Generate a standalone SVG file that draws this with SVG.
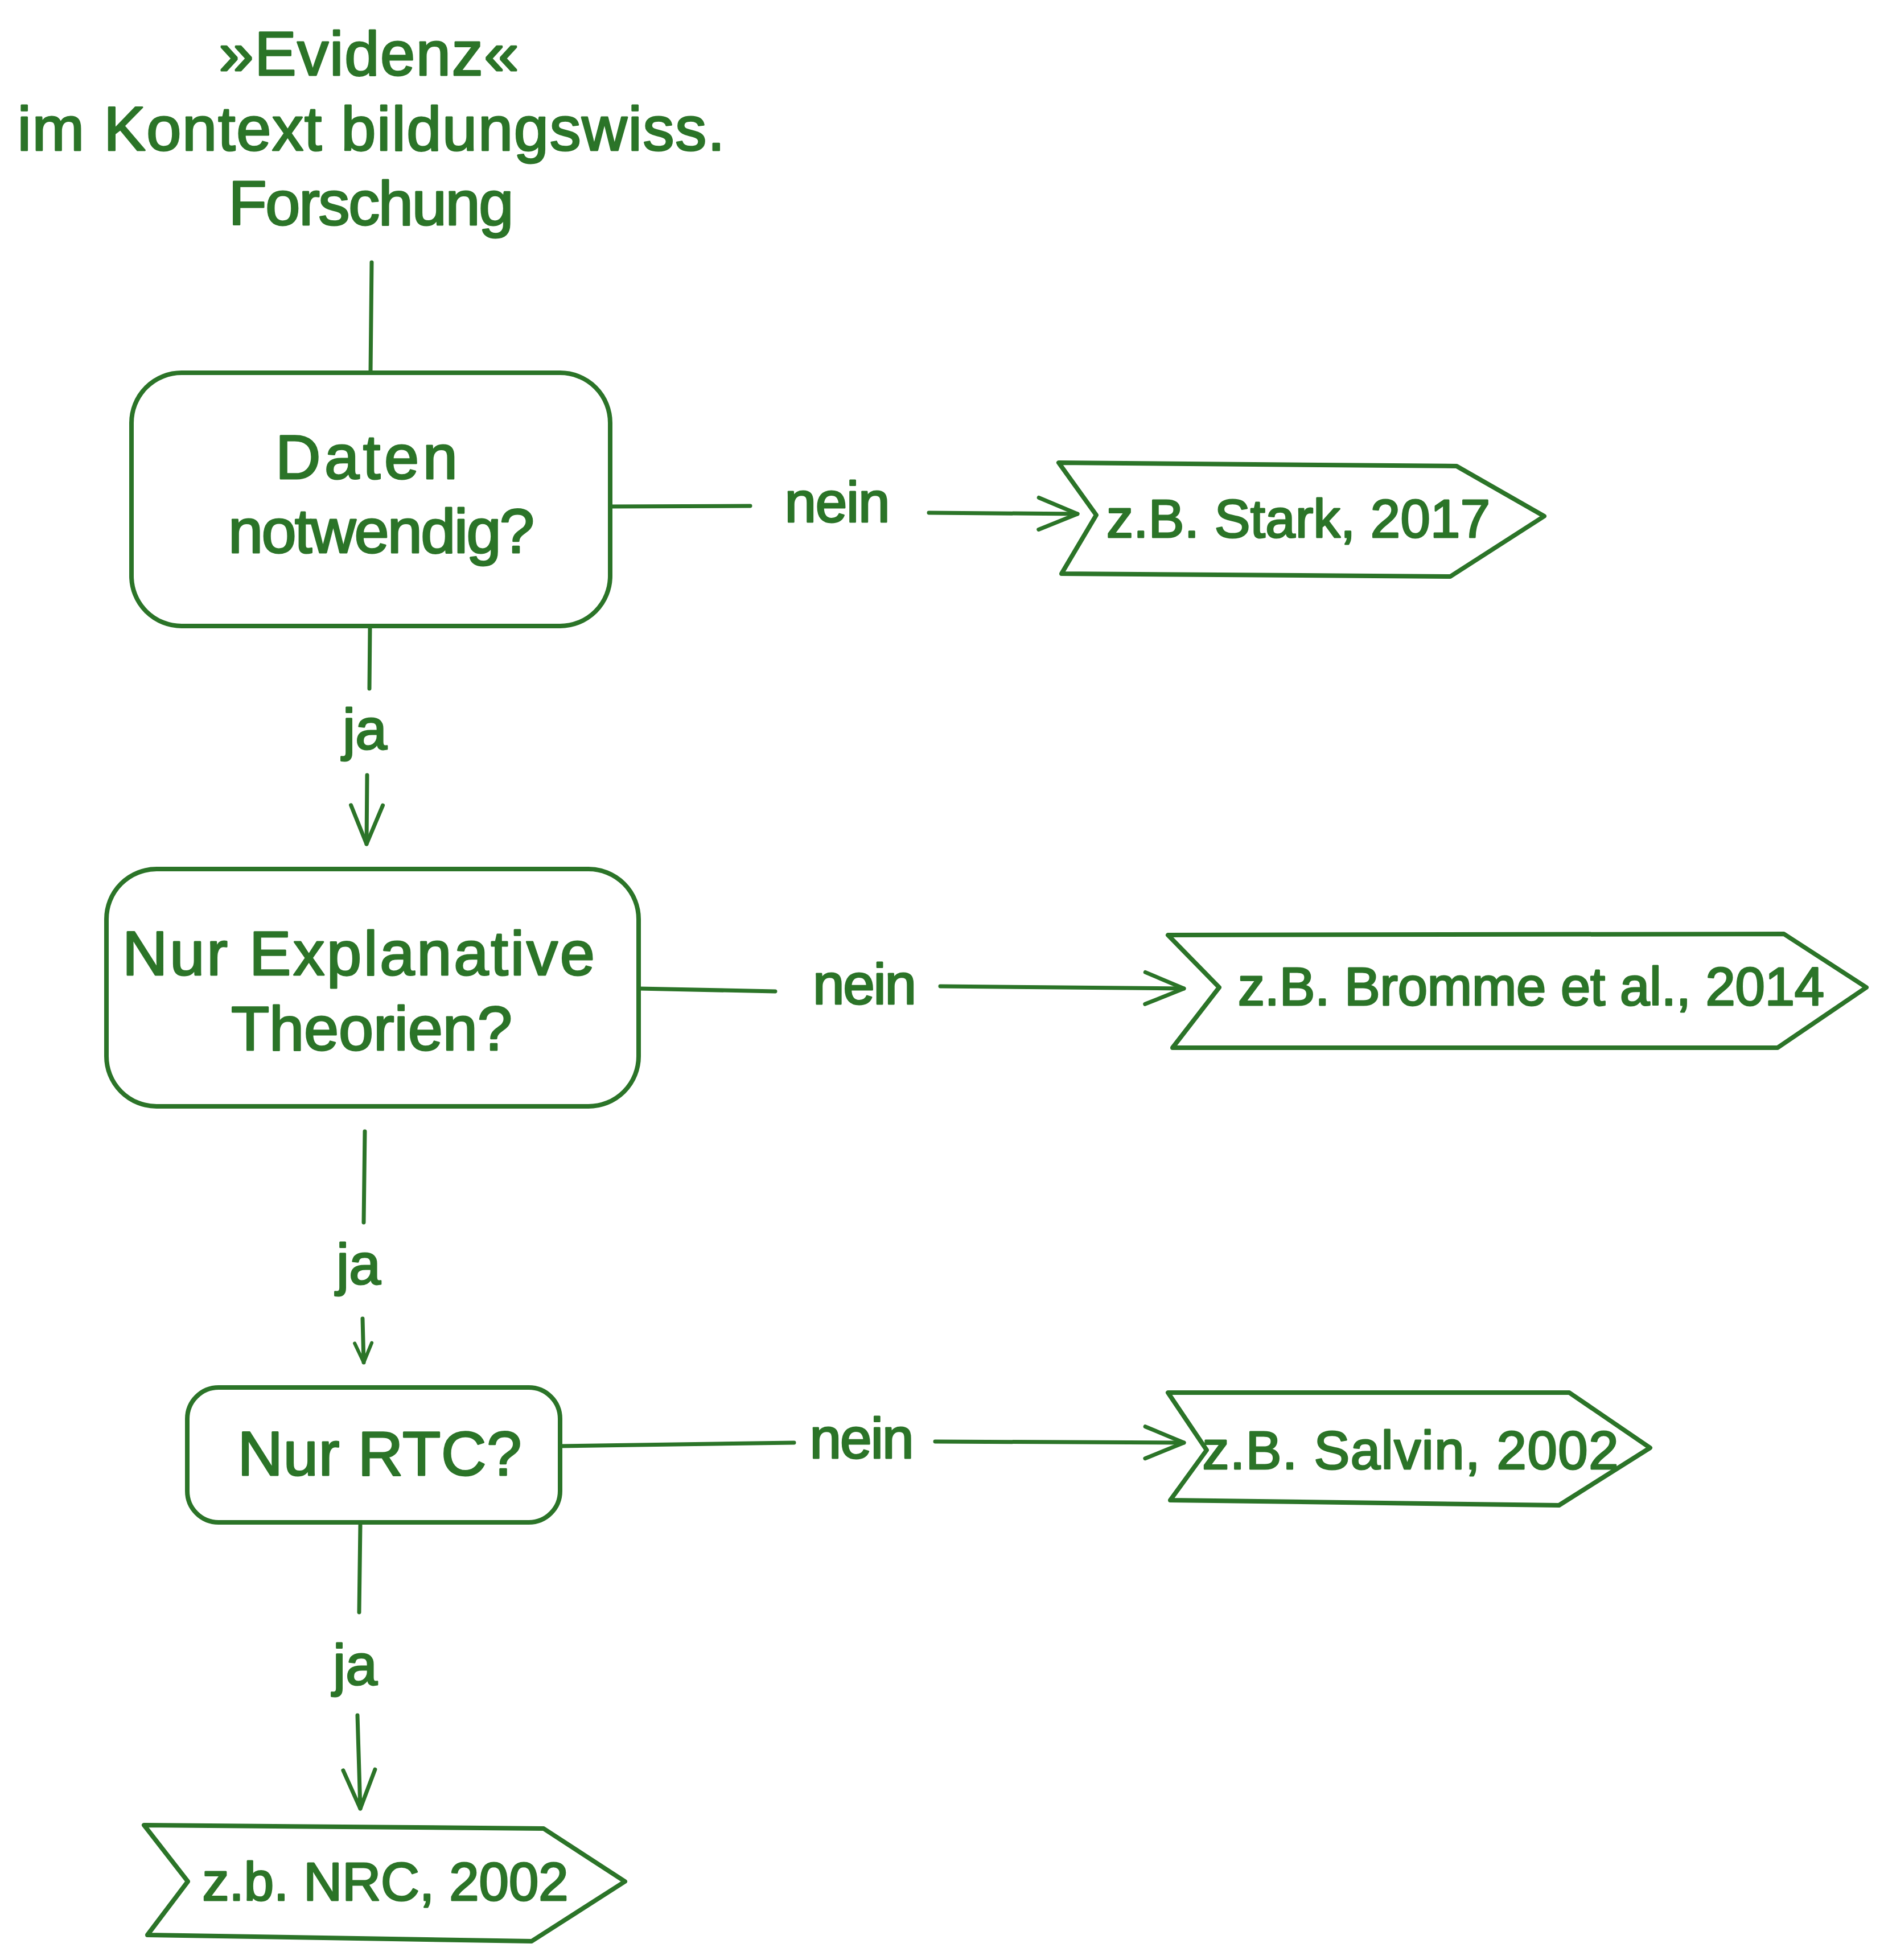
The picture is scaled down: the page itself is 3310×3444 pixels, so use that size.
<svg xmlns="http://www.w3.org/2000/svg" width="3310" height="3444" viewBox="0 0 3310 3444">
<style>
.bg{fill:#ffffff}
.shape{fill:none;stroke:#2b7428;stroke-width:8;stroke-linejoin:round;stroke-linecap:round}
.pent{fill:none;stroke:#2b7428;stroke-width:8;stroke-linejoin:round;stroke-linecap:round}
.conn{fill:none;stroke:#2b7428;stroke-width:7;stroke-linecap:round}
.t{font-family:"Liberation Sans",Arial,sans-serif;fill:#2b7428;stroke:#2b7428;stroke-width:3;stroke-linejoin:round;text-anchor:middle}
.big{font-size:110px}
.lbl{font-size:100px}
.ref{font-size:94px}
</style>
<defs>
<marker id="ah" markerUnits="userSpaceOnUse" markerWidth="80" markerHeight="60" viewBox="0 0 80 60" refX="72" refY="30" orient="auto" overflow="visible">
<path d="M4,2 L72,30 L4,58" fill="none" stroke="#2b7428" stroke-width="7" stroke-linecap="round" stroke-linejoin="round"/>
</marker>
<marker id="ahs" markerUnits="userSpaceOnUse" markerWidth="40" markerHeight="34" viewBox="0 0 40 34" refX="36" refY="17" orient="auto" overflow="visible">
<path d="M2,2 L36,17 L2,32" fill="none" stroke="#2b7428" stroke-width="6" stroke-linecap="round" stroke-linejoin="round"/>
</marker>
</defs>
<rect class="bg" x="0" y="0" width="3310" height="3444"/>

<g id="title">
<text class="t big" x="648" y="132" textLength="527">»Evidenz«</text>
<text class="t big" x="652" y="264" textLength="1243">im Kontext bildungswiss.</text>
<text class="t big" x="652" y="395" textLength="501">Forschung</text>
</g>

<g id="connectors">
<path class="conn" d="M653,461 L651,655"/>
<path class="conn" d="M1072,890 L1318,889"/>
<path class="conn" d="M1632,901 L1893,903" marker-end="url(#ah)"/>
<path class="conn" d="M650,1102 L649,1210"/>
<path class="conn" d="M645,1362 L644,1483" marker-end="url(#ah)"/>
<path class="conn" d="M1122,1737 L1362,1742"/>
<path class="conn" d="M1652,1733 L2080,1737" marker-end="url(#ah)"/>
<path class="conn" d="M641,1988 L639,2148"/>
<path class="conn" d="M637,2317 L639,2394" marker-end="url(#ahs)"/>
<path class="conn" d="M984,2541 L1395,2535"/>
<path class="conn" d="M1643,2533 L2080,2535" marker-end="url(#ah)"/>
<path class="conn" d="M633,2680 L631,2833"/>
<path class="conn" d="M628,3014 L633,3178" marker-end="url(#ah)"/>
<text class="t lbl" x="1471" y="917" textLength="185">nein</text>
<text class="t lbl" x="641" y="1316">ja</text>
<text class="t lbl" x="1519" y="1764" textLength="182">nein</text>
<text class="t lbl" x="630" y="2256">ja</text>
<text class="t lbl" x="1514" y="2562" textLength="183">nein</text>
<text class="t lbl" x="624" y="2960">ja</text>
</g>

<g id="box-daten">
<rect class="shape" x="231" y="655" width="841" height="445" rx="88" ry="88"/>
<text class="t big" x="644" y="841" textLength="320">Daten</text>
<text class="t big" x="670" y="971" textLength="538">notwendig?</text>
</g>

<g id="box-explanative">
<rect class="shape" x="187" y="1527" width="935" height="417" rx="88" ry="88"/>
<text class="t big" x="630" y="1713" textLength="830">Nur Explanative</text>
<text class="t big" x="653" y="1845" textLength="494">Theorien?</text>
</g>

<g id="box-rtc">
<rect class="shape" x="329" y="2438" width="655" height="237" rx="55" ry="55"/>
<text class="t big" x="667" y="2592" textLength="499">Nur RTC?</text>
</g>

<g id="ref-stark">
<polygon class="pent" points="1860,813 2559,819 2713,907 2548,1013 1865,1008 1926,905"/>
<text class="t ref" x="2281" y="944" textLength="674">z.B. Stark, 2017</text>
</g>

<g id="ref-bromme">
<polygon class="pent" points="2052,1643 3134,1641 3279,1735 3123,1841 2060,1841 2142,1735"/>
<text class="t ref" x="2690" y="1766" textLength="1030">z.B. Bromme et al., 2014</text>
</g>

<g id="ref-salvin">
<polygon class="pent" points="2052,2447 2757,2447 2899,2544 2739,2645 2056,2636 2120,2548"/>
<text class="t ref" x="2478" y="2581" textLength="731">z.B. Salvin, 2002</text>
</g>

<g id="ref-nrc">
<polygon class="pent" points="253,3207 955,3213 1098,3306 934,3411 259,3400 330,3306"/>
<text class="t ref" x="677" y="3339" textLength="643">z.b. NRC, 2002</text>
</g>
</svg>
